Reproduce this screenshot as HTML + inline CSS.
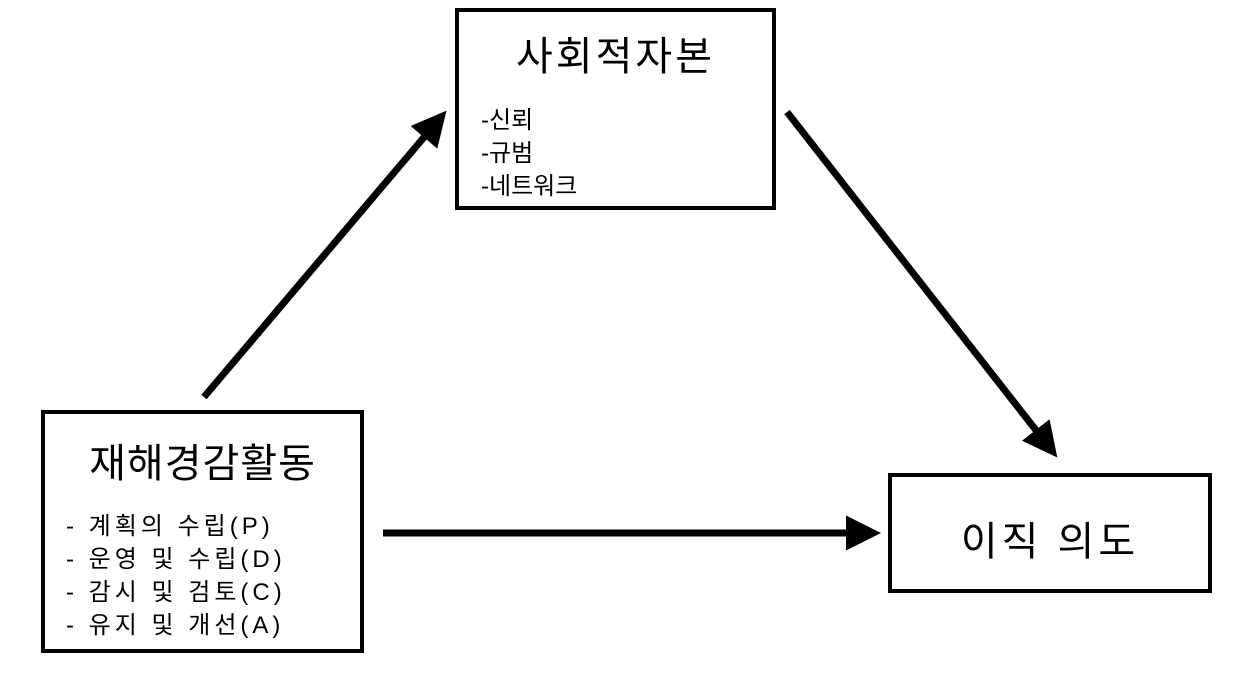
<!DOCTYPE html>
<html><head><meta charset="utf-8"><style>
html,body{margin:0;padding:0;background:#fff;}
body{width:1247px;height:676px;position:relative;overflow:hidden;font-family:"Liberation Sans","Noto Sans CJK KR","NanumGothic",sans-serif;color:#000;}
.box{position:absolute;border:4px solid #000;box-sizing:border-box;background:#fff;}
.t{position:absolute;white-space:nowrap;}
</style></head><body>
<svg width="1247" height="676" style="position:absolute;left:0;top:0">
<defs><marker id="a" markerWidth="5" markerHeight="5" refX="4" refY="2.5" orient="auto" markerUnits="strokeWidth"><path d="M0,0 L5,2.5 L0,5 z" fill="#000"/></marker></defs>
<g stroke="#000" stroke-width="7" fill="none">
<line x1="204" y1="397" x2="442" y2="116" marker-end="url(#a)"/>
<line x1="787" y1="112" x2="1053" y2="452" marker-end="url(#a)"/>
<line x1="383" y1="533" x2="874" y2="533" marker-end="url(#a)"/>
</g>
</svg>
<div class="box" style="left:455px;top:8px;width:321px;height:202px"></div>
<div class="box" style="left:41px;top:410px;width:323px;height:243px"></div>
<div class="box" style="left:888px;top:473px;width:324px;height:120px"></div>
<div class="t" style="left:455px;top:24px;width:321px;text-align:center;font-size:40px;letter-spacing:3px">사회적자본</div>
<div class="t" style="left:481px;top:104px;font-size:24px;line-height:33px">-신뢰<br>-규범<br>-네트워크</div>
<div class="t" style="left:41px;top:431px;width:323px;text-align:center;font-size:40px;letter-spacing:1px">재해경감활동</div>
<div class="t" style="left:66px;top:510px;font-size:24px;line-height:33px;letter-spacing:4px">- 계획의 수립(P)<br>- 운영 및 수립(D)<br>- 감시 및 검토(C)<br>- 유지 및 개선(A)</div>
<div class="t" style="left:888px;top:509px;width:324px;text-align:center;font-size:40px;letter-spacing:4px">이직 의도</div>
</body></html>
